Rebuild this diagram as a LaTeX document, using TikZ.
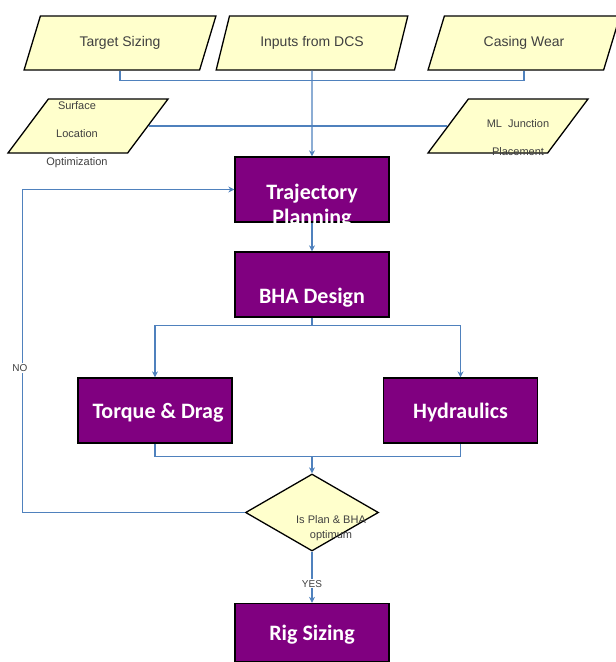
\documentclass[tikz,border=0pt]{standalone}
\usepackage{fontspec}
\setmainfont{Liberation Sans}
\newfontfamily\boxfont{Carlito}
\usepackage{xcolor}
\usetikzlibrary{shapes.geometric,arrows.meta}
\definecolor{linkblue}{HTML}{4F81BD}
\definecolor{paleyellow}{HTML}{FFFFCC}
\definecolor{plum}{HTML}{800080}
\definecolor{greytext}{HTML}{404040}

\begin{document}
\begin{tikzpicture}[x=1pt, y=-1pt,
    flow/.style={draw=linkblue, line width=1.2pt},
    arr/.style={flow, -{Stealth[length=6pt,width=6pt]}},
    iobox/.style={trapezium, trapezium left angle=63, trapezium right angle=117,
        trapezium stretches=true, draw=black, line width=1.3pt, fill=paleyellow,
        minimum width=192pt, minimum height=54pt, inner sep=2pt,
        text=greytext, font=\fontsize{14}{16}\selectfont},
    smallio/.style={iobox, minimum width=160pt},
    iotext/.style={text=greytext, font=\fontsize{11}{28}\selectfont, align=center},
    procbox/.style={rectangle, draw=black, line width=1.3pt, fill=plum,
        minimum width=154pt, minimum height=65pt, proctext},
    proctext/.style={text=white, font=\boxfont\bfseries\fontsize{22}{25}\selectfont, align=center},
    lowtext/.style={text height=21pt, text depth=5pt},
    decision/.style={diamond, draw=black, line width=1.3pt, fill=paleyellow,
        minimum width=133pt, minimum height=77pt, inner sep=2pt},
    smalltext/.style={text=greytext, font=\fontsize{10}{15}\selectfont, align=center},
]
\useasboundingbox (0,0) rectangle (616,662);

% inputs
\node[iobox] (ts) at (120,43) {Target Sizing};
\node[iobox] (dcs) at (312,43) {Inputs from DCS};
\node[iobox] (cw) at (524,43) {Casing Wear};
\node[smallio] (sl) at (88,126) {};
\node[smallio] (ml) at (508,126) {};
\node[iotext] (slt) at (77,135) {Surface\\Location\\Optimization};
\node[iotext] (mlt) at (518,138) {ML\ \ Junction\\Placement};

% process boxes
\node[procbox] (tp) at (312,189.5) {};
\node[proctext] (tpt) at (312,206) {Trajectory\\Planning};
\node[procbox] (bha) at (312,284.5) {};
\node[proctext] (bhat) at (312,298) {BHA Design};
\node[procbox, lowtext] (td) at (155,410.5) {\hspace*{6pt}Torque \& Drag};
\node[procbox, lowtext] (hy) at (460.5,410.5) {Hydraulics};
\node[decision] (dec) at (312,512.5) {};
\node[smalltext, font=\fontsize{11}{15}\selectfont] (dect) at (331,528) {Is Plan \& BHA\\optimum};
\node[procbox, lowtext, minimum height=58pt] (rig) at (312,632.5) {Rig Sizing};

% connectors
\draw[flow] (ts.south) -- ++(0,10) -| (cw.south);
\draw[arr] (dcs.south) -- (tp.north);
\draw[flow] (sl.east) -- (ml.west);
\draw[arr] (tp) -- (bha);
\draw[flow] (bha.south) -- ++(0,8) coordinate (split);
\draw[arr] (split) -| (td.north);
\draw[arr] (split) -| (hy.north);
\draw[flow] (td.south) -- ++(0,13) coordinate (join) -| (hy.south);
\draw[arr] (join -| dec.north) -- (dec.north);
\draw[arr] (dec.west) -- ++(-222,0) |- (tp.west);
\node[smalltext, fill=white, inner sep=1pt] (no) at (20,368) {NO};
\draw[arr] (dec.south) -- (rig.north)
    node[pos=0.63, smalltext, fill=white, inner sep=1pt] (yes) {YES};
\end{tikzpicture}
\end{document}
